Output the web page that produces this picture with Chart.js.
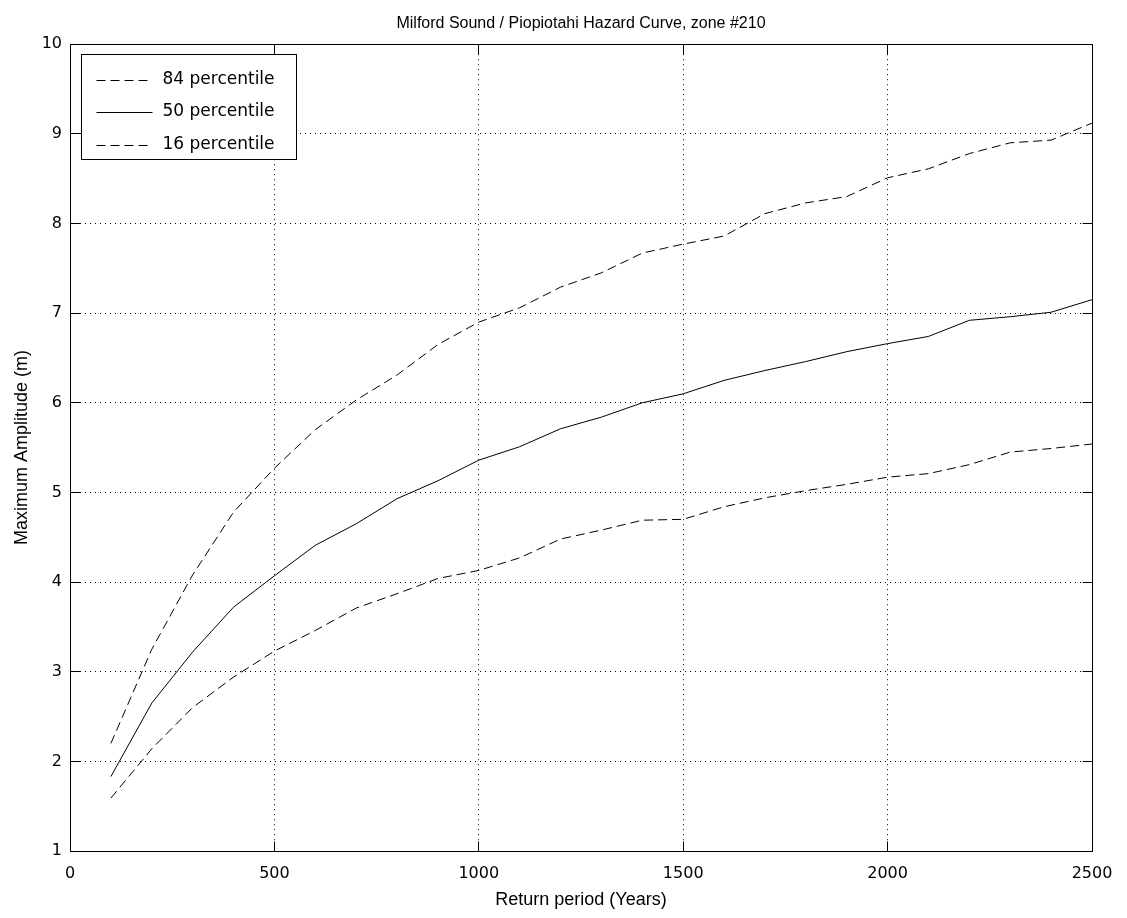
<!DOCTYPE html>
<html>
<head>
<meta charset="utf-8">
<title>Milford Sound hazard curve</title>
<script src="https://cdn.jsdelivr.net/npm/chart.js@4.4.1/dist/chart.umd.min.js"></script>
<style>
  html, body { margin: 0; padding: 0; background: #fff; }
  #wrap { width: 1127px; height: 918px; position: relative; }
</style>
</head>
<body>
<div id="wrap"><canvas id="hazard-chart"></canvas></div>
<script>
// return period (years)
const years = [100, 200, 300, 400, 500, 600, 700, 800, 900, 1000, 1100, 1200, 1300,
               1400, 1500, 1600, 1700, 1800, 1900, 2000, 2100, 2200, 2300, 2400, 2500];

// maximum amplitude (m)
const p84 = [2.2, 3.25, 4.08, 4.78, 5.27, 5.7, 6.03, 6.31, 6.65, 6.9, 7.06, 7.29, 7.45,
             7.67, 7.77, 7.86, 8.11, 8.23, 8.3, 8.51, 8.61, 8.78, 8.9, 8.93, 9.12];
const p50 = [1.83, 2.65, 3.22, 3.72, 4.07, 4.41, 4.65, 4.93, 5.13, 5.36, 5.51, 5.71, 5.84,
             6.0, 6.1, 6.25, 6.36, 6.46, 6.57, 6.66, 6.74, 6.92, 6.96, 7.01, 7.15];
const p16 = [1.59, 2.14, 2.6, 2.94, 3.23, 3.46, 3.71, 3.87, 4.04, 4.13, 4.27, 4.48, 4.58,
             4.69, 4.7, 4.84, 4.94, 5.02, 5.09, 5.17, 5.21, 5.31, 5.45, 5.49, 5.54];

const seriesLabels = ['84 percentile', '50 percentile', '16 percentile'];

const xTicks = [0, 500, 1000, 1500, 2000, 2500];
const yTicks = [1, 2, 3, 4, 5, 6, 7, 8, 9, 10];

const tickFont = { family: "'DejaVu Sans', sans-serif", size: 16 };
const legendFont = { family: "'DejaVu Sans', sans-serif", size: 17 };
const titleFont = { family: "'Liberation Sans Narrow', 'Liberation Sans', sans-serif", size: 16 };
const axisFont = { family: "'Liberation Sans Narrow', 'Liberation Sans', sans-serif", size: 18 };
const dashed = [9, 5];

function toPoints(values) {
  return values.map((v, i) => ({ x: years[i], y: v }));
}

// same rounding chart.js uses for 1px grid lines
const crisp = p => Math.round(p - 0.5) + 0.5;

// MATLAB style box with inward ticks on all four sides
const boxPlugin = {
  id: 'box',
  afterDatasetsDraw(chart) {
    const { ctx, scales } = chart;
    const L = crisp(scales.x.getPixelForValue(0)), R = crisp(scales.x.getPixelForValue(2500));
    const T = crisp(scales.y.getPixelForValue(10)), B = crisp(scales.y.getPixelForValue(1));
    ctx.save();
    ctx.strokeStyle = '#000';
    ctx.lineWidth = 1;
    ctx.setLineDash([]);
    ctx.strokeRect(L, T, R - L, B - T);
    ctx.beginPath();
    xTicks.forEach(t => {
      const px = crisp(scales.x.getPixelForValue(t));
      ctx.moveTo(px, B); ctx.lineTo(px, B - 10);
      ctx.moveTo(px, T); ctx.lineTo(px, T + 10);
    });
    yTicks.forEach(t => {
      const py = crisp(scales.y.getPixelForValue(t));
      ctx.moveTo(L, py); ctx.lineTo(L + 10, py);
      ctx.moveTo(R, py); ctx.lineTo(R - 10, py);
    });
    ctx.stroke();
    ctx.restore();
  }
};

// legend box inside the upper left corner of the axes
const legendBoxPlugin = {
  id: 'legendBox',
  afterDraw(chart) {
    const { ctx, chartArea: a } = chart;
    const x0 = Math.round(a.left) + 11.5, y0 = Math.round(a.top) + 10.5;
    const w = 215, h = 105;
    ctx.save();
    ctx.fillStyle = '#fff';
    ctx.fillRect(x0, y0, w, h);
    ctx.strokeStyle = '#000';
    ctx.lineWidth = 1;
    ctx.strokeRect(x0, y0, w, h);
    chart.data.datasets.forEach((ds, i) => {
      const y = y0 + 25 + i * 32.5;
      ctx.beginPath();
      ctx.setLineDash(ds.borderDash || []);
      ctx.moveTo(x0 + 15, Math.round(y) + 0.5);
      ctx.lineTo(x0 + 71, Math.round(y) + 0.5);
      ctx.strokeStyle = ds.borderColor;
      ctx.stroke();
      ctx.setLineDash([]);
      ctx.fillStyle = '#000';
      ctx.font = `${legendFont.size}px ${legendFont.family}`;
      ctx.textBaseline = 'middle';
      ctx.textAlign = 'left';
      ctx.fillText(ds.label, x0 + 81, y);
    });
    ctx.restore();
  }
};

const ctx = document.getElementById('hazard-chart').getContext('2d');

const hazardChart = new Chart(ctx, {
  type: 'line',
  data: {
    datasets: [
      { label: seriesLabels[0], data: toPoints(p84), borderColor: '#000', borderWidth: 1, borderDash: dashed },
      { label: seriesLabels[1], data: toPoints(p50), borderColor: '#000', borderWidth: 1 },
      { label: seriesLabels[2], data: toPoints(p16), borderColor: '#000', borderWidth: 1, borderDash: dashed }
    ]
  },
  options: {
    responsive: true,
    maintainAspectRatio: false,
    animation: false,
    devicePixelRatio: 1,
    layout: { padding: { left: 0, right: 35, top: 0, bottom: 0 } },
    elements: { point: { radius: 0 }, line: { tension: 0 } },
    plugins: {
      legend: { display: false },
      tooltip: { enabled: false },
      title: {
        display: true,
        fullSize: false,
        text: 'Milford Sound / Piopiotahi Hazard Curve, zone #210',
        color: '#000',
        font: { ...titleFont, weight: 'normal', lineHeight: 1.2 },
        padding: { top: 14, bottom: 11 }
      }
    },
    scales: {
      x: {
        type: 'linear',
        min: 0,
        max: 2500,
        afterFit: s => { s.height = 67; },
        afterBuildTicks: s => { s.ticks = xTicks.map(v => ({ value: v })); },
        ticks: { color: '#000', font: tickFont, padding: 13, maxRotation: 0, callback: v => String(v) },
        grid: { color: '#000', drawTicks: false, lineWidth: 1 },
        border: { display: false, dash: [1, 4] },
        title: { display: true, text: 'Return period (Years)', color: '#000', font: axisFont, padding: { top: 0, bottom: 7 } }
      },
      y: {
        type: 'linear',
        min: 1,
        max: 10,
        afterFit: s => { s.width = 70; },
        afterBuildTicks: s => { s.ticks = yTicks.map(v => ({ value: v })); },
        ticks: { color: '#000', font: tickFont, padding: 8, callback: v => String(v) },
        grid: { color: '#000', drawTicks: false, lineWidth: 1 },
        border: { display: false, dash: [1, 4] },
        title: { display: true, text: 'Maximum Amplitude (m)', color: '#000', font: axisFont, padding: { top: 11, bottom: 0 } }
      }
    }
  },
  plugins: [boxPlugin, legendBoxPlugin]
});
</script>
</body>
</html>
